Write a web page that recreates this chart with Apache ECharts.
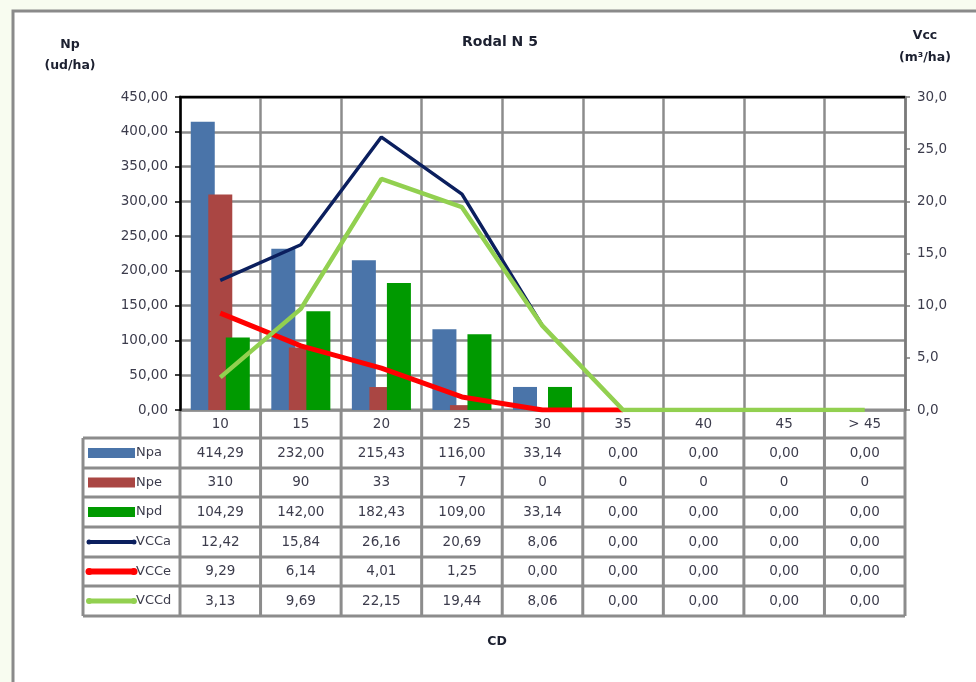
<!DOCTYPE html>
<html><head><meta charset="utf-8">
<script src="https://cdn.jsdelivr.net/npm/echarts@6/dist/echarts.min.js"></script>
<style>html,body{margin:0;padding:0;background:#f8fcf0;}#c{width:976px;height:682px;}</style>
</head><body><div id="c"></div>
<script>
const categories = ['10','15','20','25','30','35','40','45','> 45'];
const npa  = [414.29, 232.00, 215.43, 116.00, 33.14, 0, 0, 0, 0];
const npe  = [310, 90, 33, 7, 0, 0, 0, 0, 0];
const npd  = [104.29, 142.00, 182.43, 109.00, 33.14, 0, 0, 0, 0];
const vcca = [12.42, 15.84, 26.16, 20.69, 8.06, 0, 0, 0, 0];
const vcce = [9.29, 6.14, 4.01, 1.25, 0, 0, 0, 0, 0];
const vccd = [3.13, 9.69, 22.15, 19.44, 8.06, 0, 0, 0, 0];
// number of points drawn for each line in the chart
const vccaDrawn = 5, vcceDrawn = 6, vccdDrawn = 9;
const leftAxis = {min: 0, max: 450, interval: 50};
const rightAxis = {min: 0, max: 30, interval: 5};

const C = {npa:'#4a74a9', npe:'#aa4643', npd:'#009a00', vcca:'#0b1f5e', vcce:'#ff0000', vccd:'#92d050'};
const TXT = '#3c3c4c';
const FONT = 'DejaVu Sans';
const GRID = {left:180, right:71, top:97, bottom:272};
const plotL = 180, plotR = 905, plotT = 97, plotB = 410;
const colW = (plotR - plotL) / categories.length;
const tblL = 83;
const rowEdges = [438, 468, 497, 527, 557, 586, 616];
const lineGray = '#8c8c8c';

const fmt2 = v => v.toFixed(2).replace('.', ',');
const fmt1 = v => v.toFixed(1).replace('.', ',');
const fmtInt = v => String(Math.round(v));
const clip = (arr, n) => arr.map((v, i) => i < n ? v : null);

const rows = [
  {name:'Npa', data:npa, fmt:fmt2, color:C.npa, kind:'bar'},
  {name:'Npe', data:npe, fmt:fmtInt, color:C.npe, kind:'bar'},
  {name:'Npd', data:npd, fmt:fmt2, color:C.npd, kind:'bar'},
  {name:'VCCa', data:vcca, fmt:fmt2, color:C.vcca, kind:'line', w:4},
  {name:'VCCe', data:vcce, fmt:fmt2, color:C.vcce, kind:'line', w:6},
  {name:'VCCd', data:vccd, fmt:fmt2, color:C.vccd, kind:'line', w:5},
];

const g = [];
// outer frame
g.push({type:'rect', z:-100, shape:{x:13, y:11, width:1000, height:700}, style:{fill:'#ffffff', stroke:'#8a8a8a', lineWidth:3}});
// top plot border
g.push({type:'line', z:50, shape:{x1:plotL-1, y1:plotT, x2:plotR, y2:plotT}, style:{stroke:'#000', lineWidth:2.5}});
// table horizontal lines (the one at the plot bottom stays beneath the series)
g.push({type:'line', z:0, shape:{x1:plotL, y1:plotB, x2:plotR, y2:plotB}, style:{stroke:lineGray, lineWidth:3}});
rowEdges.forEach((y, i) => {
  g.push({type:'line', z:50, shape:{x1:tblL, y1:y, x2:plotR, y2:y}, style:{stroke:lineGray, lineWidth:3}});
});
// table vertical lines
for (let i = 0; i <= categories.length; i++) {
  const x = plotL + i * colW;
  g.push({type:'line', z:0, shape:{x1:x, y1:plotB, x2:x, y2:rowEdges[rowEdges.length-1]}, style:{stroke:lineGray, lineWidth:3}});
}
g.push({type:'line', z:50, shape:{x1:tblL, y1:rowEdges[0], x2:tblL, y2:rowEdges[rowEdges.length-1]}, style:{stroke:lineGray, lineWidth:3}});
// table rows
rows.forEach((r, ri) => {
  const yc = (rowEdges[ri] + rowEdges[ri+1]) / 2;
  if (r.kind === 'bar') {
    g.push({type:'rect', z:51, shape:{x:88, y:yc-5, width:47, height:10}, style:{fill:r.color}});
  } else {
    g.push({type:'line', z:51, shape:{x1:89, y1:yc, x2:134, y2:yc}, style:{stroke:r.color, lineWidth:r.w}});
    g.push({type:'circle', z:51, shape:{cx:89, cy:yc, r:r.w/2+0.5}, style:{fill:r.color}});
    g.push({type:'circle', z:51, shape:{cx:134, cy:yc, r:r.w/2+0.5}, style:{fill:r.color}});
  }
  g.push({type:'text', z:52, x:136, y:yc, style:{text:r.name, fill:TXT, font:'13px '+FONT, align:'left', verticalAlign:'middle'}});
  r.data.forEach((v, ci) => {
    g.push({type:'text', z:52, x:plotL + (ci+0.5)*colW, y:yc, style:{text:r.fmt(v), fill:TXT, font:'13.5px '+FONT, align:'center', verticalAlign:'middle'}});
  });
});
// titles
g.push({type:'text', z:52, x:500, y:42, style:{text:'Rodal N 5', fill:'#1c2030', font:'bold 14px '+FONT, align:'center', verticalAlign:'middle'}});
g.push({type:'text', z:52, x:70, y:45, style:{text:'Np', fill:'#1c2030', font:'bold 12.5px '+FONT, align:'center', verticalAlign:'middle'}});
g.push({type:'text', z:52, x:70, y:66, style:{text:'(ud/ha)', fill:'#1c2030', font:'bold 12.5px '+FONT, align:'center', verticalAlign:'middle'}});
g.push({type:'text', z:52, x:925, y:36, style:{text:'Vcc', fill:'#1c2030', font:'bold 12.5px '+FONT, align:'center', verticalAlign:'middle'}});
g.push({type:'text', z:52, x:925, y:58, style:{text:'(m³/ha)', fill:'#1c2030', font:'bold 12.5px '+FONT, align:'center', verticalAlign:'middle'}});
g.push({type:'text', z:52, x:497, y:642, style:{text:'CD', fill:'#1c2030', font:'bold 12.5px '+FONT, align:'center', verticalAlign:'middle'}});

const chart = echarts.init(document.getElementById('c'), null, {renderer:'canvas'});
chart.setOption({
  backgroundColor:'#f8fcf0',
  animation:false,
  grid:{left:GRID.left, right:GRID.right, top:GRID.top, bottom:GRID.bottom, containLabel:false, outerBoundsMode:'none'},
  xAxis:{
    type:'category', data:categories, boundaryGap:true,
    axisLine:{show:false}, axisTick:{show:false},
    axisLabel:{show:true, margin:7, color:TXT, fontFamily:FONT, fontSize:13.5, interval:0},
    splitLine:{show:true, interval:0, lineStyle:{color:lineGray, width:2.5}}
  },
  yAxis:[
    {type:'value', min:leftAxis.min, max:leftAxis.max, interval:leftAxis.interval, position:'left',
     axisLine:{show:true, lineStyle:{color:'#000', width:2.5}},
     axisTick:{show:true, length:5, lineStyle:{color:'#000', width:1.5}},
     axisLabel:{margin:12, color:TXT, fontFamily:FONT, fontSize:13.5, formatter:v => fmt2(v)},
     splitLine:{show:true, lineStyle:{color:lineGray, width:2.5}}},
    {type:'value', min:rightAxis.min, max:rightAxis.max, interval:rightAxis.interval, position:'right',
     axisLine:{show:true, lineStyle:{color:'#7a7a7a', width:2.5}},
     axisTick:{show:true, length:5, lineStyle:{color:'#7a7a7a', width:1.5}},
     axisLabel:{margin:12, color:TXT, fontFamily:FONT, fontSize:13.5, formatter:v => fmt1(v)},
     splitLine:{show:false}}
  ],
  series:[
    {name:'Npa', type:'bar', data:npa, barWidth:24, barGap:'-27%', itemStyle:{color:C.npa}, z:3},
    {name:'Npe', type:'bar', data:npe, barWidth:24, barGap:'-27%', itemStyle:{color:C.npe}, z:3},
    {name:'Npd', type:'bar', data:npd, barWidth:24, barGap:'-27%', itemStyle:{color:C.npd}, z:3},
    {name:'VCCa', type:'line', yAxisIndex:1, data:clip(vcca, vccaDrawn), showSymbol:false, symbol:'none', lineStyle:{color:C.vcca, width:3.5}, z:5},
    {name:'VCCe', type:'line', yAxisIndex:1, data:clip(vcce, vcceDrawn), showSymbol:false, symbol:'none', lineStyle:{color:C.vcce, width:5}, z:5},
    {name:'VCCd', type:'line', yAxisIndex:1, data:clip(vccd, vccdDrawn), showSymbol:false, symbol:'none', lineStyle:{color:C.vccd, width:4.5}, z:6}
  ],
  graphic:{elements:g}
});
</script>
</body></html>
